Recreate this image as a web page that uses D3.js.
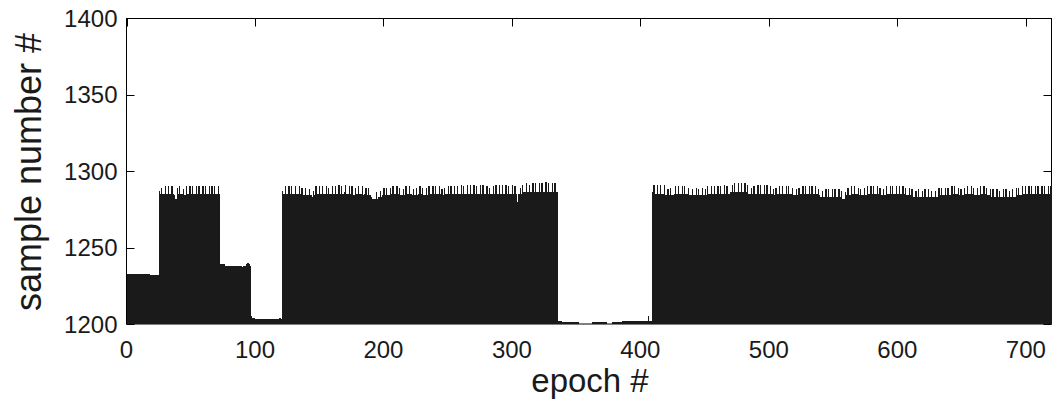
<!DOCTYPE html>
<html lang="en">
<head>
    <meta charset="UTF-8">
    <title>sample number per epoch</title>
    <script src="https://d3js.org/d3.v7.min.js"></script>
    <style>
        body { margin: 0; background: #fff; }
    </style>
</head>
<body>

<div id="chart"></div>

<script>

    // sample number of each epoch
    var seg0 = [1233,1233,1233,1233,1233,1233,1233,1233,1233,1233,
                1233,1233,1233,1233,1233,1233,1233,1233,1232,1232,
                1232,1232,1232,1232,1232];                                  // epochs 0-24

    var seg1 = [1287,1285,1289,1285,1285,1290,1285,1290,1285,1285,
                1290,1285,1284,1282,1289,1285,1290,1285,1285,1288,
                1284,1290,1285,1285,1290,1285,1290,1285,1285,1290,
                1285,1290,1285,1285,1290,1285,1290,1285,1285,1290,
                1285,1290,1285,1290,1285,1285,1290,1285];                   // 25-72

    var seg2 = [1239,1239,1239,1239,1238,1238,1238,1238,1238,1238,
                1238,1238,1238,1238,1238,1238,1238,1237,1238,1238,
                1239,1240,1239,1238];                                       // 73-96

    var seg3 = [1205,1204,1204,1203,1203,1203,1203,1203,1203,1203,
                1203,1203,1203,1203,1203,1203,1203,1203,1203,1203,
                1203,1203,1204,1203];                                       // 97-120

    var seg4 = [1287,1285,1290,1285,1285,1290,1285,1290,1285,1285,
                1290,1285,1285,1290,1285,1289,1284,1284,1289,1284,
                1284,1288,1284,1283,1287,1284,1290,1285,1285,1290,
                1285,1290,1285,1285,1290,1285,1289,1285,1285,1290,
                1285,1290,1285,1285,1291,1285,1290,1285,1286,1291,
                1285,1285,1290,1285,1290,1284,1284,1289,1285,1290,
                1285,1285,1290,1284,1285,1289,1284,1289,1284,1283,
                1282,1282,1282,1286,1282,1283,1287,1283,1284,1289,
                1284,1289,1284,1284,1289,1285,1290,1285,1285,1290,
                1285,1289,1284,1284,1288,1284,1290,1285,1285,1290,
                1285,1284,1288,1284,1289,1284,1285,1290,1285,1289,
                1284,1284,1289,1284,1290,1285,1285,1290,1285,1290,
                1285,1285,1290,1285,1288,1284,1289,1285,1285,1290,
                1285,1290,1285,1285,1290,1285,1290,1285,1285,1291,
                1285,1290,1285,1285,1291,1285,1291,1285,1285,1291,
                1285,1290,1285,1285,1291,1285,1291,1285,1285,1290,
                1285,1289,1285,1285,1290,1285,1291,1285,1285,1291,
                1285,1291,1285,1285,1291,1285,1290,1285,1285,1291,
                1285,1290,1285,1280,1285,1289,1285,1291,1286,1286,
                1292,1286,1291,1286,1286,1292,1286,1292,1286,1286,
                1292,1286,1292,1286,1286,1293,1286,1292,1286,1286,
                1292,1286,1292,1286,1286];                                  // 121-335

    var seg5 = [1202,1202,1202,1201,1201,1201,1201,1201,1201,1201,
                1201,1201,1201,1201,1201,1201,1200,1200,1200,1200,
                1200,1200,1200,1200,1200,1200,1201,1201,1201,1201,
                1201,1201,1201,1201,1201,1201,1201,1201,1200,1200,
                1200,1200,1201,1201,1201,1201,1201,1201,1201,1201,
                1202,1202,1202,1202,1202,1202,1202,1202,1202,1202,
                1202,1202,1202,1202,1202,1202,1202,1202,1202,1202,
                1205,1202,1202];                                            // 336-408

    var seg6 = [1286,1291,1285,1285,1291,1285,1291,1285,1285,1291,
                1284,1284,1288,1284,1289,1284,1284,1285,1290,1285,
                1290,1285,1285,1290,1285,1290,1285,1285,1289,1284,
                1284,1288,1284,1284,1289,1284,1288,1284,1284,1289,
                1284,1288,1284,1290,1285,1285,1290,1285,1290,1285,
                1285,1290,1285,1290,1285,1285,1291,1285,1290,1285,
                1285,1286,1291,1286,1292,1286,1286,1292,1286,1292,
                1286,1286,1292,1286,1291,1285,1285,1289,1285,1290,
                1285,1285,1291,1285,1291,1285,1285,1291,1285,1291,
                1285,1285,1290,1285,1288,1284,1289,1285,1285,1290,
                1285,1290,1285,1285,1290,1285,1290,1285,1285,1289,
                1284,1284,1288,1284,1289,1285,1285,1290,1285,1290,
                1285,1285,1290,1285,1290,1285,1285,1290,1285,1288,
                1284,1283,1287,1283,1283,1288,1283,1288,1283,1283,
                1288,1283,1288,1283,1283,1288,1283,1287,1282,1282,
                1286,1284,1289,1284,1284,1290,1285,1290,1285,1285,
                1289,1284,1288,1284,1284,1289,1284,1290,1285,1285,
                1290,1285,1290,1285,1285,1290,1285,1289,1284,1284,
                1288,1284,1290,1285,1285,1290,1285,1290,1285,1285,
                1290,1285,1290,1285,1285,1290,1285,1289,1284,1284,
                1289,1284,1288,1283,1283,1287,1283,1288,1283,1283,
                1287,1283,1288,1283,1283,1288,1283,1287,1283,1283,
                1287,1283,1283,1289,1284,1289,1284,1284,1289,1284,
                1289,1284,1284,1290,1285,1290,1285,1285,1289,1284,
                1288,1284,1284,1289,1285,1290,1285,1285,1290,1285,
                1289,1284,1284,1289,1284,1290,1285,1285,1290,1285,
                1289,1284,1284,1288,1283,1288,1283,1283,1288,1283,
                1287,1283,1283,1288,1283,1288,1283,1283,1287,1283,
                1288,1283,1283,1289,1284,1289,1284,1284,1290,1285,
                1290,1285,1285,1290,1285,1290,1285,1285,1290,1285,
                1290,1285,1285,1290,1285,1290,1285,1285,1290,1285,
                1290];                                                      // 409-719

    var xTicks = [0, 100, 200, 300, 400, 500, 600, 700];
    var yTicks = [1200, 1250, 1300, 1350, 1400];

    var samples = [].concat(seg0, seg1, seg2, seg3, seg4, seg5, seg6);
    var data = samples.map((v, i) => ({epoch: i, value: v}));
    // close the last step at the right edge
    data.push({epoch: samples.length, value: samples[samples.length - 1]});

    var width = 1053, height = 406;
    var plotLeft = 126.5, plotRight = 1051.5, plotTop = 18, plotBottom = 324;
    var tickLen = 8;

    var x = d3.scaleLinear().domain([0, 720]).range([plotLeft, plotRight]);
    var y = d3.scaleLinear().domain([1200, 1400]).range([plotBottom, plotTop]);

    const svg = d3.select("#chart").append("svg")
        .attr("width", width)
        .attr("height", height)
        .style("font-family", "'Liberation Sans', Arial, Helvetica, sans-serif");

    // box + inward ticks (matlab style)
    const gAxes = svg.append("g")
        .attr("stroke", "#000")
        .attr("stroke-width", 1)
        .attr("fill", "none");

    gAxes.append("rect")
        .attr("x", plotLeft).attr("y", plotTop + 0.5)
        .attr("width", plotRight - plotLeft).attr("height", plotBottom - plotTop - 0.5);

    gAxes.selectAll("line.yl").data(yTicks).join("line")
        .attr("class", "yl")
        .attr("x1", plotLeft).attr("x2", plotLeft + tickLen)
        .attr("y1", d => Math.round(y(d)) + 0.5).attr("y2", d => Math.round(y(d)) + 0.5);

    gAxes.selectAll("line.yr").data(yTicks).join("line")
        .attr("class", "yr")
        .attr("x1", plotRight).attr("x2", plotRight - tickLen)
        .attr("y1", d => Math.round(y(d)) + 0.5).attr("y2", d => Math.round(y(d)) + 0.5);

    gAxes.selectAll("line.xt").data(xTicks).join("line")
        .attr("class", "xt")
        .attr("x1", d => Math.round(x(d)) + 0.5).attr("x2", d => Math.round(x(d)) + 0.5)
        .attr("y1", plotTop + 0.5).attr("y2", plotTop + 0.5 + tickLen);

    // the bars, drawn as one stepped area
    var area = d3.area()
        .curve(d3.curveStepAfter)
        .x(d => x(d.epoch))
        .y0(y(1200))
        .y1(d => y(d.value));

    svg.append("path")
        .datum(data)
        .attr("fill", "#1b1a1b")
        .attr("shape-rendering", "crispEdges")
        .attr("d", area);

    // tick labels
    svg.append("g").selectAll("text").data(yTicks).join("text")
        .attr("x", plotLeft - 9)
        .attr("y", d => y(d))
        .attr("dy", "0.36em")
        .attr("text-anchor", "end")
        .attr("font-size", 24)
        .attr("fill", "#1a1a1a")
        .text(d => d);

    svg.append("g").selectAll("text").data(xTicks).join("text")
        .attr("x", d => x(d))
        .attr("y", 358)
        .attr("text-anchor", "middle")
        .attr("font-size", 24)
        .attr("fill", "#1a1a1a")
        .text(d => d);

    // axis titles
    svg.append("text")
        .attr("x", 590)
        .attr("y", 392)
        .attr("text-anchor", "middle")
        .attr("font-size", 33)
        .attr("fill", "#1a1a1a")
        .text("epoch #");

    svg.append("text")
        .attr("transform", "translate(41,172) rotate(-90)")
        .attr("text-anchor", "middle")
        .attr("font-size", 36)
        .attr("fill", "#1a1a1a")
        .text("sample number #");

</script>

</body>
</html>
